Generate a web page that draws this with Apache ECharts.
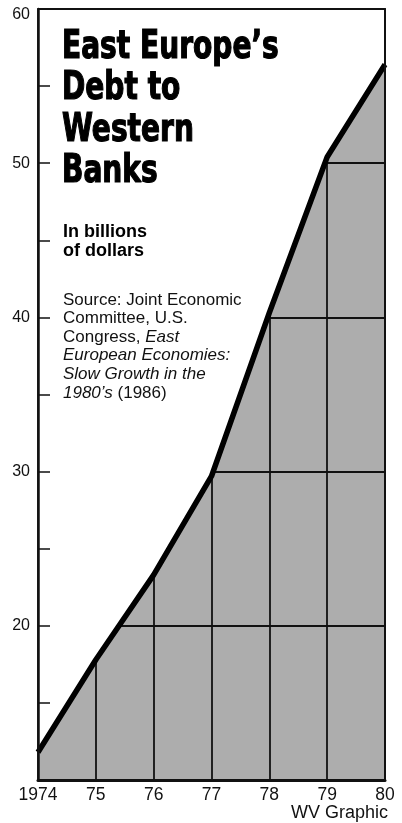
<!DOCTYPE html>
<html><head><meta charset="utf-8">
<script src="https://cdn.jsdelivr.net/npm/echarts@6/dist/echarts.min.js"></script>
<style>html,body{margin:0;padding:0;background:#fff}#c{width:402px;height:823px}</style>
</head><body><div id="c"></div>
<script>
const years = ['1974','75','76','77','78','79','80'];
const debt = [11.8, 17.8, 23.3, 29.7, 40.3, 50.4, 56.4];
const yMin = 10, yMax = 60;
const yTickStep = 10;

const chart = echarts.init(document.getElementById('c'), null, {renderer:'canvas'});
const sans = "'Liberation Sans', Arial, Helvetica, sans-serif";
const narrow = "'Liberation Sans Narrow', 'DejaVu Sans Condensed', sans-serif";
const ink = '#111';

const baseX = {type:'category', data: years, boundaryGap:false};
const baseY = {type:'value', min:yMin, max:yMax, interval:yTickStep};

const option = {
  animation:false,
  backgroundColor:'#fff',
  grid:{left:38, right:17, top:9, bottom:43, show:true, backgroundColor:'#adadad', borderWidth:0},
  xAxis:[
    Object.assign({}, baseX, {position:'bottom', z:0, axisLine:{show:false}, axisTick:{show:false}, axisLabel:{show:false},
      splitLine:{show:true, lineStyle:{color:ink, width:1.8}}}),
    Object.assign({}, baseX, {position:'bottom', z:10, axisLine:{show:true, lineStyle:{color:ink, width:3}}, axisTick:{show:false},
      axisLabel:{show:true, color:ink, fontFamily:sans, fontSize:17.5, margin:6}, splitLine:{show:false}}),
    Object.assign({}, baseX, {position:'top', z:10, axisLine:{show:true, lineStyle:{color:ink, width:2}}, axisTick:{show:false},
      axisLabel:{show:false}, splitLine:{show:false}})
  ],
  yAxis:[
    Object.assign({}, baseY, {position:'left', z:0, axisLine:{show:false}, axisTick:{show:false}, axisLabel:{show:false},
      splitLine:{show:true, lineStyle:{color:ink, width:1.8}}}),
    Object.assign({}, baseY, {position:'left', z:10, axisLine:{show:true, lineStyle:{color:ink, width:2.5}},
      axisTick:{show:true, inside:true, length:12, lineStyle:{color:ink, width:1.5}},
      minorTick:{show:true, splitNumber:2, length:12, lineStyle:{color:ink, width:1.5}},
      axisLabel:{show:true, showMinLabel:false, color:ink, fontFamily:sans, fontSize:16, margin:8,
        formatter: v => v === yMax ? '{top|' + v + '}' : String(v),
        rich:{top:{fontFamily:sans, fontSize:16, color:ink, padding:[12,0,0,0]}}}, splitLine:{show:false}}),
    Object.assign({}, baseY, {position:'right', z:10, axisLine:{show:true, lineStyle:{color:ink, width:2}},
      axisTick:{show:false}, axisLabel:{show:false}, splitLine:{show:false}})
  ],
  series:[
    {type:'line', name:'Debt', data:debt, stack:'s', xAxisIndex:0, yAxisIndex:0, z:5,
      showSymbol:false, lineStyle:{color:'#000', width:5.5}, silent:true},
    {type:'line', name:'cover', data:debt.map(v => yMax - v), stack:'s', xAxisIndex:0, yAxisIndex:0, z:3,
      showSymbol:false, lineStyle:{width:0}, areaStyle:{color:'#fff', opacity:1}, silent:true}
  ]
};

const textEls = [];
const title = ["East Europe\u2019s", "Debt to", "Western", "Banks"];
const titleY = [47.5, 89, 131, 172];
title.forEach((t,i)=>textEls.push({type:'text', z:20, x:62, y:titleY[i], scaleX:0.8, originX:0, originY:0,
  style:{text:t, font:"bold 39px " + narrow, fill:'#000', stroke:'#000', lineWidth:1.2, verticalAlign:'middle', align:'left'}}));
const sub = ["In billions", "of dollars"];
const subY = [232, 251];
sub.forEach((t,i)=>textEls.push({type:'text', z:20, x:63, y:subY[i],
  style:{text:t, font:"bold 18px " + sans, fill:'#000', verticalAlign:'middle', align:'left'}}));
const src = ["Source: Joint Economic", "Committee, U.S.", "Congress, {i|East}", "{i|European Economies:}", "{i|Slow Growth in the}", "{i|1980\u2019s} (1986)"];
const srcY = [300, 318.5, 337, 355.5, 374, 393];
src.forEach((t,i)=>textEls.push({type:'text', z:20, x:63, y:srcY[i],
  style:{text:t, fontFamily:sans, fontSize:17, fill:'#111', verticalAlign:'middle', align:'left',
    rich:{i:{fontFamily:sans, fontSize:17, fontStyle:'italic', fill:'#111'}}}}));
textEls.push({type:'text', z:20, x:388, y:813,
  style:{text:'WV Graphic', font:"18px " + sans, fill:'#111', verticalAlign:'middle', align:'right'}});
option.graphic = textEls;

chart.setOption(option);
</script>
</body></html>
